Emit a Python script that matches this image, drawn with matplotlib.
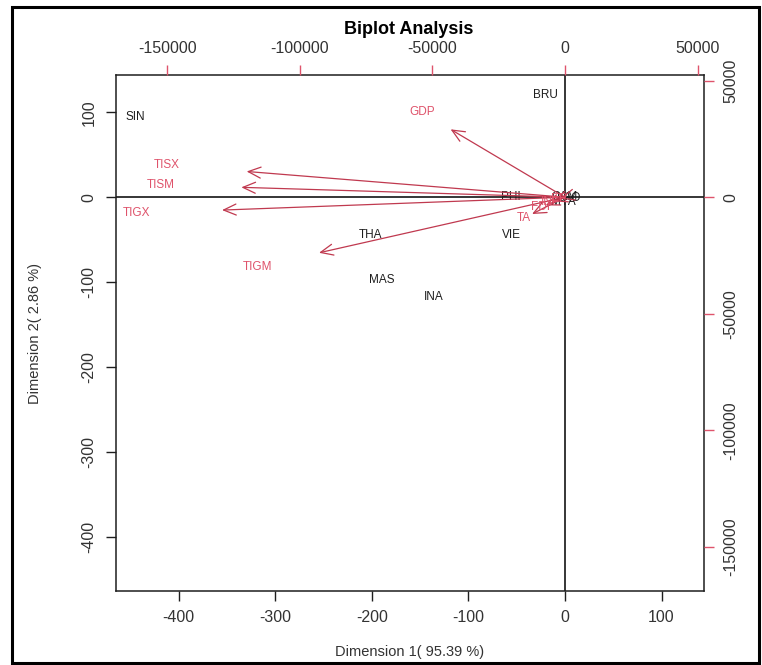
import numpy as np
import matplotlib
matplotlib.use("Agg")
import matplotlib.pyplot as plt
from matplotlib.patches import Rectangle

plt.rcParams['font.family'] = ['Liberation Sans', 'DejaVu Sans']
plt.rcParams['axes.unicode_minus'] = False

# country scores (Dimension 1 / Dimension 2)
countries = ["SIN", "BRU", "THA", "VIE", "MAS", "INA", "PHI", "CAM", "LAO", "MYA"]
dim1 = [-445, -20, -201, -55, -190, -136, -56, 0, 4, -2]
dim2 = [95, 120, -45, -45, -97, -118, 0, 0, -1, -6]

# variable loadings (label positions, top/right axis units)
variables = ["GDP", "TISX", "TISM", "TIGX", "TIGM", "TA", "FDI", "INF", "ER"]
load1 = [-53900, -150000, -152500, -161600, -115900, -15500, -9100, -5500, -2200]
load2 = [36400, 13800, 5300, -6900, -29800, -9000, -4400, -2200, -700]

xlim = (-465, 144)
ylim = (-464, 144)
ratio = 364.0  # loading units per score unit

score_ticks = [-400, -300, -200, -100, 0, 100]
load_ticks = [-150000, -100000, -50000, 0, 50000]

red = "#DF536B"
dark_red = "#C0394F"
ink = "#1e1e1e"
grey = "#333333"

fig = plt.figure(figsize=(7.62, 6.65), dpi=100)
pos = [116 / 762, 1 - 591 / 665, 588 / 762, 516 / 665]

ax = fig.add_axes(pos)
ax.set_xlim(*xlim)
ax.set_ylim(*ylim)
ax.set_xticks(score_ticks)
ax.set_yticks(score_ticks)
ax.tick_params(direction='out', length=7, width=1, color=ink,
               labelsize=11.5, labelcolor=grey, pad=7)
ax.tick_params(axis='y', labelrotation=90)
for lab in ax.get_yticklabels():
    lab.set_va('center')
for s in ax.spines.values():
    s.set_linewidth(1.1)
    s.set_color(ink)
ax.axhline(0, color='black', lw=1.1)
ax.axvline(0, color='black', lw=1.1)

for name, x, y in zip(countries, dim1, dim2):
    ax.text(x, y, name, ha='center', va='center', fontsize=8.5, color=ink)

# second axes for the loadings (top / right)
ax2 = fig.add_axes(pos, frameon=False)
ax2.set_xlim(xlim[0] * ratio, xlim[1] * ratio)
ax2.set_ylim(ylim[0] * ratio, ylim[1] * ratio)
ax2.xaxis.tick_top()
ax2.yaxis.tick_right()
ax2.set_xticks(load_ticks)
ax2.set_yticks(load_ticks)
ax2.set_xticklabels([str(t) for t in load_ticks])
ax2.set_yticklabels([str(t) for t in load_ticks])
ax2.tick_params(direction='out', length=7, width=1, color=red,
                labelsize=11.5, labelcolor=grey, pad=7)
ax2.tick_params(axis='y', labelrotation=90)
for lab in ax2.get_yticklabels():
    lab.set_va('center')

for name, x, y in zip(variables, load1, load2):
    ax2.annotate("", xy=(0.8 * x, 0.8 * y), xytext=(0, 0),
                 arrowprops=dict(arrowstyle='->,head_length=0.5,head_width=0.22',
                                 color=dark_red, lw=0.9, shrinkA=0, shrinkB=0,
                                 mutation_scale=18))
    ax2.text(x, y, name, ha='center', va='center', fontsize=8.5, color=red)

fig.text(409 / 762, 1 - 29 / 665, "Biplot Analysis", ha='center', va='center',
         fontsize=13, fontweight='bold', color='black')
fig.text(410 / 762, 1 - 652 / 665, "Dimension 1( 95.39 %)", ha='center',
         va='center', fontsize=10.5, color=grey)
fig.text(35 / 762, 1 - 333 / 665, "Dimension 2( 2.86 %)", ha='center',
         va='center', rotation=90, fontsize=10.5, color=grey)

# outer frame of the picture
fig.patches.append(Rectangle((12 / 762, 2 / 665), 747 / 762, 656 / 665,
                             transform=fig.transFigure, fill=False,
                             edgecolor='black', lw=2.2))

fig.savefig("out.png", dpi=100)
